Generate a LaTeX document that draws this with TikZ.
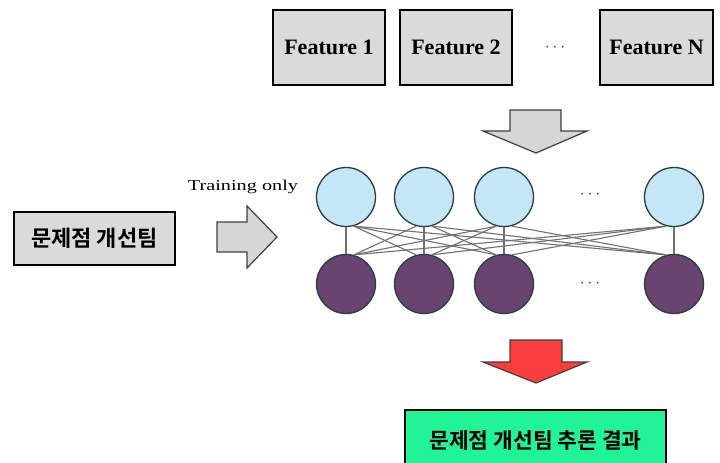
\documentclass[tikz,border=0pt]{standalone}
\usepackage{fontspec}
\setmainfont{Liberation Serif}
\newfontfamily\kofont{Noto Sans CJK KR}[BoldFont={Noto Sans CJK KR Bold}]
\newfontfamily\widefont[FakeStretch=1.35]{Liberation Serif}
\definecolor{boxgray}{RGB}{218,218,218}
\definecolor{nodeblue}{RGB}{197,230,246}
\definecolor{nodeedge}{RGB}{40,60,64}
\definecolor{nodepurple}{RGB}{106,68,112}
\definecolor{linkgray}{RGB}{112,112,112}
\definecolor{arrowgray}{RGB}{214,214,214}
\definecolor{arrowred}{RGB}{250,62,62}
\definecolor{resultgreen}{RGB}{32,244,150}
\begin{document}
\begin{tikzpicture}[x=1pt,y=-1pt,
  featbox/.style={draw=black,line width=1.4pt,fill=boxgray,minimum width=112pt,minimum height=75pt,inner sep=0pt,font=\fontsize{22}{24}\selectfont\bfseries},
  teambox/.style={draw=black,line width=1.4pt,fill=boxgray,minimum width=161pt,minimum height=53pt,inner sep=0pt,font=\kofont\bfseries\fontsize{22}{24}\selectfont},
  resultbox/.style={draw=black,line width=1.4pt,fill=resultgreen,minimum width=261pt,minimum height=60pt,inner sep=0pt,font=\kofont\bfseries\fontsize{21.5}{23}\selectfont},
  inunit/.style={circle,draw=nodeedge,line width=1.3pt,fill=nodeblue,minimum size=59pt,inner sep=0pt},
  outunit/.style={circle,draw=nodeedge,line width=1.3pt,fill=nodepurple,minimum size=59pt,inner sep=0pt},
  link/.style={draw=linkgray,line width=1.1pt},
  dotsmark/.style={font=\fontsize{17}{17}\selectfont,text=black!75},
  blockarrow/.style={draw=black!75,line width=1.2pt,line join=miter}
]
\useasboundingbox (0,0) rectangle (720,463);
\fill[white] (0,0) rectangle (720,463);

% feature inputs
\node[featbox] (f1) at (329,47.5) {Feature 1};
\node[featbox] (f2) at (456,47.5) {Feature 2};
\node[dotsmark] (fdots) at (555,48) {$\cdots$};
\node[featbox,minimum width=113pt] (fN) at (656.5,47.5) {Feature N};

% feed arrow into the network
\draw[blockarrow,fill=arrowgray] (510,110) -- (561,110) -- (561,131) -- (587,131)
  -- (536,153) -- (483,131) -- (510,131) -- cycle;

% teacher signal
\node[teambox] (team) at (94.5,238.5) {문제점 개선팀};
\node[font=\widefont\fontsize{15}{17}\selectfont] (train) at (243,187) {Training only};
\draw[blockarrow,fill=arrowgray] (217,222) -- (247,222) -- (247,206) -- (277,237)
  -- (247,268) -- (247,252) -- (217,252) -- cycle;

% network units
\foreach \k/\x in {1/346,2/424,3/504,4/674}{
  \node[inunit] (t\k) at (\x,197) {};
  \node[outunit] (b\k) at (\x,284) {};
}
\node[dotsmark] (tdots) at (590,195) {$\cdots$};
\node[dotsmark] (bdots) at (590,284) {$\cdots$};

% full connections between the two layers
\foreach \i in {1,...,4}{
  \foreach \j in {1,...,4}{
    \ifnum\i=\j
      \draw[link] (t\i.south) -- (b\j.north);
    \else\ifnum\i<\j
      \draw[link] (t\i.-75) -- (b\j.105);
    \else
      \draw[link] (t\i.-105) -- (b\j.75);
    \fi\fi
  }
}

% output arrow and result
\draw[blockarrow,fill=arrowred] (510,340) -- (562,340) -- (562,362) -- (587,362)
  -- (536,383) -- (483,362) -- (510,362) -- cycle;
\node[resultbox] (result) at (535.5,440) {문제점 개선팀 추론 결과};
\end{tikzpicture}
\end{document}
